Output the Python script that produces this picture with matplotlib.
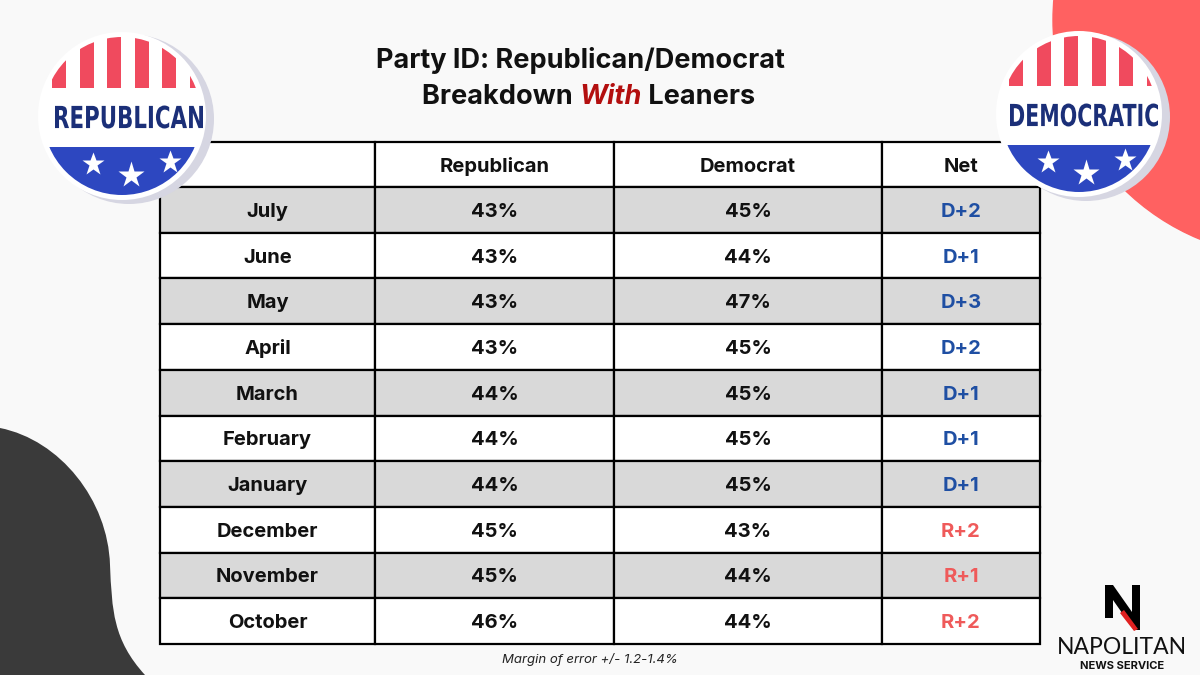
import numpy as np
import matplotlib
matplotlib.use("Agg")
import matplotlib.pyplot as plt
from matplotlib.patches import Rectangle, Circle, Polygon, PathPatch
from matplotlib.path import Path
from matplotlib.textpath import TextPath
from matplotlib.font_manager import FontProperties
from matplotlib.transforms import Affine2D

plt.rcParams['font.family'] = ['Inter', 'DejaVu Sans']

# table data
months = ['July', 'June', 'May', 'April', 'March', 'February', 'January',
          'December', 'November', 'October']
republican = [43, 43, 43, 43, 44, 44, 44, 45, 45, 46]
democrat = [45, 44, 47, 45, 45, 45, 45, 43, 44, 44]
net = ['D+2', 'D+1', 'D+3', 'D+2', 'D+1', 'D+1', 'D+1', 'R+2', 'R+1', 'R+2']
headers = ['', 'Republican', 'Democrat', 'Net']

BG = '#f9f9f9'
GRAY = '#d9d9d9'
D_BLUE = '#1f4fa3'
R_RED = '#ef5a5a'
NAVY = '#1b2f78'
STRIPE = '#f04a5e'
BAND = '#2d47c0'

fig = plt.figure(figsize=(12, 6.75), dpi=100)
fig.patch.set_facecolor(BG)
ax = fig.add_axes([0, 0, 1, 1])
ax.set_xlim(0, 1200)
ax.set_ylim(675, 0)
ax.axis('off')

# background shapes
ax.add_patch(Circle((1290, 20), 237, color='#ff6161', zorder=1))
verts = [(0, 428), (60, 440), (108, 500), (110, 565),
         (112, 610), (113, 640), (145, 675), (0, 675), (0, 428)]
codes = [Path.MOVETO, Path.CURVE4, Path.CURVE4, Path.CURVE4,
         Path.CURVE4, Path.CURVE4, Path.CURVE4, Path.LINETO, Path.CLOSEPOLY]
ax.add_patch(PathPatch(Path(verts, codes), facecolor='#3a3a3a', edgecolor='none', zorder=1))

# title
ax.text(580, 60, 'Party ID: Republican/Democrat', ha='center', va='center',
        fontsize=19.5, fontweight='bold', color='#111111', zorder=5)
line2 = [('Breakdown ', '#111111', 'normal'), ('With', '#b30f0f', 'italic'),
         (' Leaners', '#111111', 'normal')]
t = ax.text(422, 97, line2[0][0], ha='left', va='center', fontsize=19.5,
            fontweight='bold', color=line2[0][1], zorder=5)
fig.canvas.draw()
for txt, col, sty in line2[1:]:
    t = ax.annotate(txt, xycoords=t, xy=(1, 0), va='bottom', ha='left',
                    fontsize=19.5, fontweight='bold', style=sty, color=col, zorder=5)

# table
col_x = [160, 375, 614, 882, 1040]
top = 142
head_h = 45
row_h = 45.7
lw = 1.6

for j, h in enumerate(headers):
    x0, x1 = col_x[j], col_x[j + 1]
    ax.add_patch(Rectangle((x0, top), x1 - x0, head_h, facecolor='white',
                           edgecolor='black', lw=lw, zorder=2))
    ax.text((x0 + x1) / 2, top + head_h / 2 + 2, h, ha='center', va='center',
            fontsize=14.5, fontweight='bold', color='#111111', zorder=3)

for i, m in enumerate(months):
    y0 = top + head_h + i * row_h
    fc = GRAY if i % 2 == 0 else 'white'
    vals = [m, f'{republican[i]}%', f'{democrat[i]}%', net[i]]
    for j, v in enumerate(vals):
        x0, x1 = col_x[j], col_x[j + 1]
        ax.add_patch(Rectangle((x0, y0), x1 - x0, row_h, facecolor=fc,
                               edgecolor='black', lw=lw, zorder=2))
        c = '#111111'
        if j == 3:
            c = D_BLUE if v.startswith('D') else R_RED
        ax.text((x0 + x1) / 2, y0 + row_h / 2 + 2, v, ha='center', va='center',
                fontsize=14.5, fontweight='bold', color=c, zorder=3)

ax.text(590, 660, 'Margin of error +/- 1.2-1.4%', ha='center', va='center',
        fontsize=9.5, style='italic', color='#222222', zorder=3)


def squeezed_text(s, cx, cy, w, h, color, z):
    # condensed lettering: stretch a text path into a w x h box
    tp = TextPath((0, 0), s, size=100, prop=FontProperties(family='DejaVu Sans', weight='bold'))
    bb = tp.get_extents()
    tr = (Affine2D().translate(-bb.x0 - bb.width / 2, -bb.y0 - bb.height / 2)
          .scale(w / bb.width, -h / bb.height).translate(cx, cy))
    ax.add_patch(PathPatch(tp, facecolor=color, edgecolor='none',
                           transform=tr + ax.transData, zorder=z))


# campaign buttons
def badge(cx, cy, r, label, tx):
    ax.add_patch(Circle((cx + 7, cy + 3), r + 1, facecolor='#d6d6e2', edgecolor='none', zorder=6))
    ax.add_patch(Circle((cx, cy), r, facecolor='white', edgecolor='none', zorder=7))
    clip = Circle((cx, cy), r - 5, transform=ax.transData)
    for k in range(-4, 4):
        s = Rectangle((cx - 8 + k * 27.5 - 7, cy - r), 14, r - 28, facecolor=STRIPE,
                      edgecolor='none', zorder=8)
        ax.add_patch(s)
        s.set_clip_path(clip)
    b = Rectangle((cx - r, cy + 31), 2 * r, r, facecolor=BAND, edgecolor='none', zorder=8)
    ax.add_patch(b)
    b.set_clip_path(clip)
    squeezed_text(label, tx, cy + 1, 148, 23, NAVY, 9)
    for dx, dy, ms in [(-36, 48, 17), (2, 59, 20), (41, 46, 17)]:
        ax.plot(tx + dx, cy + dy, marker='*', color='white', ms=ms, mec='none', zorder=9)


badge(122, 116, 84, 'REPUBLICAN', 129)
badge(1079, 114, 83, 'DEMOCRATIC', 1084)

# logo
ax.add_patch(Polygon([(1105, 585), (1113, 585), (1132, 612), (1132, 585), (1140, 585),
                      (1140, 630), (1134, 630), (1113, 600), (1113, 618), (1105, 618)],
                     closed=True, facecolor='black', edgecolor='none', zorder=5))
ax.add_patch(Polygon([(1120, 613), (1124, 610), (1138, 629), (1134, 631)], closed=True,
                     facecolor='#e02020', edgecolor='none', zorder=6))
ax.text(1122, 648, 'NAPOLITAN', ha='center', va='center', fontsize=16.5,
        color='#111111', family=['Lato', 'DejaVu Sans'], zorder=5)
ax.text(1122, 666, 'NEWS SERVICE', ha='center', va='center', fontsize=8,
        fontweight='bold', color='#111111', zorder=5)

fig.savefig('out.png', dpi=100, facecolor=BG)
